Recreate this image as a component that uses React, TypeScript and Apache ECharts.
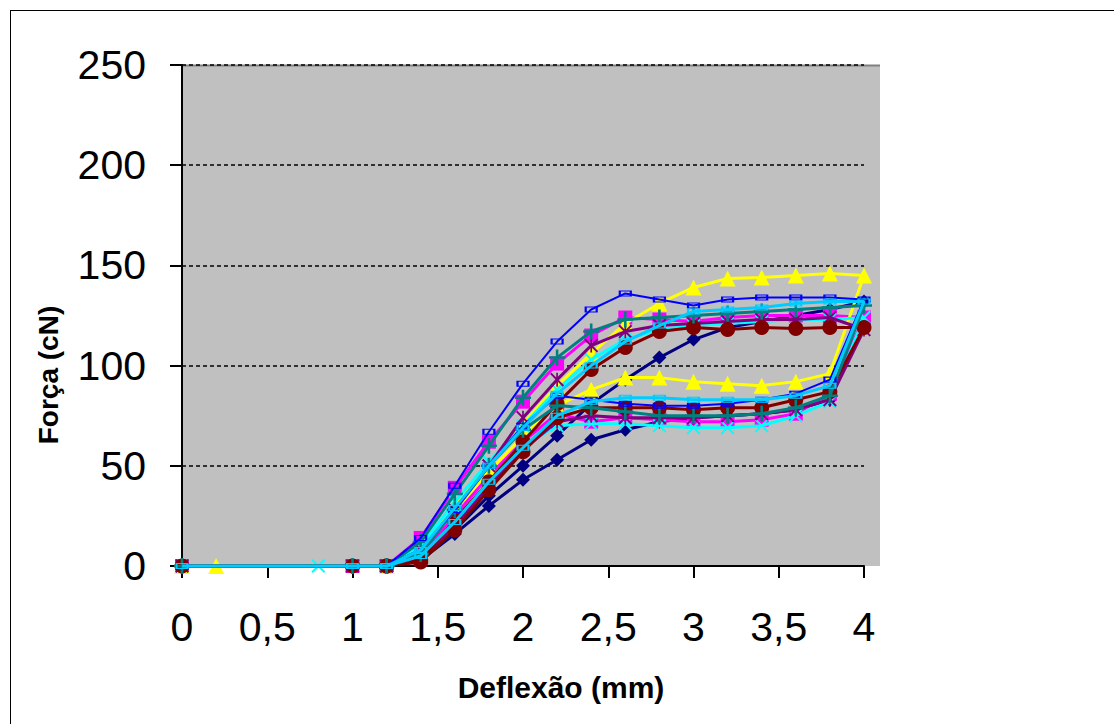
import React, { useEffect, useRef } from "react";
import * as echarts from "echarts";

// Deflection steps (mm)
const X_LOAD = [0, 1.2, 1.4, 1.6, 1.8, 2.0, 2.2, 2.4, 2.6, 2.8, 3.0, 3.2, 3.4, 3.6, 3.8, 4.0];
const X_UNLOAD = [3.8, 3.6, 3.4, 3.2, 3.0, 2.8, 2.6, 2.4, 2.2, 2.0, 1.8, 1.6, 1.4, 1.2];

const X_TICKS = [0, 0.5, 1, 1.5, 2, 2.5, 3, 3.5, 4];
const Y_TICKS = [0, 50, 100, 150, 200, 250];

// Force (cN) – loading branch, unloading branch, final zero point x
const navyLoad = [0, 0, 4, 18, 35, 50, 65, 81, 93, 104, 113, 119, 122, 125, 128, 132];
const navyUnload = [83, 78, 76, 75, 74, 72, 68, 63, 53, 43, 30, 16, 3, 0];
const magentaLoad = [0, 0, 14, 39, 62, 82, 101, 115, 124, 123, 122, 124, 125, 125, 125, 124];
const magentaUnload = [86, 76, 73, 72, 72, 73, 74, 72, 76, 62, 45, 25, 5, 0];
const yellowLoad = [0, 0, 10, 30, 50, 71, 90, 106, 121, 131, 139, 143.5, 144, 145, 146, 145];
const yellowUnload = [96, 92, 90, 91, 92, 94, 94, 88, 80, 65, 47, 28, 8, 0];
const cyanLoad = [0, 0, 10, 32, 52, 70, 88, 103, 113, 118, 120, 121, 122, 123, 123, 124];
const cyanUnload = [82, 75, 70, 69, 69, 70, 71, 71, 70, 60, 42, 22, 4, 0];
const purpleLoad = [0, 0, 8, 28, 50, 74, 93, 110, 117, 120, 121, 122, 123, 123, 124, 118];
const purpleUnload = [83, 78, 76, 75, 74, 74, 74, 75, 72, 58, 40, 20, 3, 0];
const maroonLoad = [0, 0, 3, 23, 42, 62, 81, 98, 109, 117, 119, 118, 119, 118.5, 119, 119];
const maroonUnload = [87, 83, 79, 79, 78, 79, 79, 79, 74, 57, 38, 18, 2, 0];
const tealLoad = [0, 0, 12, 36, 60, 84, 104, 117, 123, 124, 125, 126, 127, 128, 129, 130];
const tealUnload = [85, 79, 76, 75, 75, 75, 77, 79, 80, 68, 50, 28, 6, 0];
const blueLoad = [0, 0, 14, 40, 67, 91, 112, 128, 136, 133, 130, 133, 134, 134, 134, 133];
const blueUnload = [93, 86, 83, 81, 80, 80, 81, 83, 85, 70, 50, 28, 8, 0];
const skyLoad = [0, 0, 8, 29, 50, 69, 86, 100, 112, 120, 127, 128, 129, 131, 132, 132];
const skyUnload = [90, 85, 83, 83, 83, 84, 84, 82, 75, 59, 42, 22, 5, 0];

const END_X = [1.0, 1.0, 0.2, 0.8, 1.0, 1.0, 1.0, 1.0, 1.0];

const P_X = "path://M0,1 L1,0 L5,4 L9,0 L10,1 L6,5 L10,9 L9,10 L5,6 L1,10 L0,9 L4,5 Z";
const P_PLUS = "path://M4.2,0 H5.8 V4.2 H10 V5.8 H5.8 V10 H4.2 V5.8 H0 V4.2 H4.2 Z";
const P_STAR = "path://M0,1 L1,0 L5,4 L9,0 L10,1 L6,5 L10,9 L9,10 L5,6 L1,10 L0,9 L4,5 Z M4.4,0 H5.6 V10 H4.4 Z";

const SERIES_DEF = [
  { name: "1", color: "#000080", load: navyLoad, unload: navyUnload, symbol: "diamond", size: 14, width: 3, hollow: false },
  { name: "2", color: "#FF00FF", load: magentaLoad, unload: magentaUnload, symbol: "rect", size: 14, width: 3, hollow: false },
  { name: "3", color: "#FFFF00", load: yellowLoad, unload: yellowUnload, symbol: "triangle", size: 16, width: 3, hollow: false },
  { name: "4", color: "#00FFFF", load: cyanLoad, unload: cyanUnload, symbol: P_X, size: 14, width: 3, hollow: false },
  { name: "5", color: "#800080", load: purpleLoad, unload: purpleUnload, symbol: P_STAR, size: 14, width: 3, hollow: false },
  { name: "6", color: "#800000", load: maroonLoad, unload: maroonUnload, symbol: "circle", size: 15, width: 3, hollow: false },
  { name: "7", color: "#008080", load: tealLoad, unload: tealUnload, symbol: P_PLUS, size: 16, width: 3, hollow: false },
  { name: "8", color: "#0000FF", load: blueLoad, unload: blueUnload, symbol: "rect", size: [11, 5], width: 2, hollow: true },
  { name: "9", color: "#00CCFF", load: skyLoad, unload: skyUnload, symbol: "rect", size: [11, 5], width: 3, hollow: true },
];

export default function App() {
  const ref = useRef<HTMLDivElement>(null);

  useEffect(() => {
    if (!ref.current) return;
    const chart = echarts.init(ref.current, null, { renderer: "svg" });

    const series = SERIES_DEF.map((s, i) => {
      const data: number[][] = [];
      X_LOAD.forEach((x, k) => data.push([x, s.load[k]]));
      X_UNLOAD.forEach((x, k) => data.push([x, s.unload[k]]));
      data.push([END_X[i], 0]);
      return {
        type: "line",
        name: s.name,
        data,
        symbol: s.symbol,
        symbolSize: s.size,
        showAllSymbol: true,
        clip: false,
        lineStyle: { color: s.color, width: s.width },
        itemStyle: s.hollow
          ? { color: "rgba(0,0,0,0)", borderColor: s.color, borderWidth: 1.5 }
          : { color: s.color, borderWidth: 0 },
        z: 3 + i,
      };
    });

    const font = "'Liberation Sans', Arial, sans-serif";

    chart.setOption({
      animation: false,
      backgroundColor: "#ffffff",
      grid: { left: 182, top: 65, right: 250, bottom: 158, containLabel: false },
      xAxis: {
        type: "value",
        min: 0,
        max: 4,
        interval: 0.5,
        axisLine: { show: true, lineStyle: { color: "#000", width: 2 } },
        axisTick: { show: true, length: 12, lineStyle: { color: "#000", width: 2 } },
        splitLine: { show: false },
        axisLabel: {
          margin: 40,
          fontSize: 41,
          color: "#000",
          fontFamily: font,
          formatter: (v: number) => (X_TICKS.includes(v) ? String(v).replace(".", ",") : ""),
        },
      },
      yAxis: {
        type: "value",
        min: 0,
        max: 250,
        interval: 50,
        axisLine: { show: true, lineStyle: { color: "#000", width: 2 } },
        axisTick: { show: true, length: 12, lineStyle: { color: "#000", width: 2 } },
        splitLine: {
          show: true,
          lineStyle: { color: "#000", type: [4, 3], width: 1.5 },
        },
        axisLabel: {
          margin: 36,
          fontSize: 41,
          color: "#000",
          fontFamily: font,
          formatter: (v: number) => (Y_TICKS.includes(v) ? String(v) : ""),
        },
      },
      graphic: [
        { type: "rect", z: -10, shape: { x: 182, y: 65, width: 698, height: 501 }, style: { fill: "#C0C0C0" } },
        { type: "line", z: -5, shape: { x1: 182, y1: 65.5, x2: 880, y2: 65.5 }, style: { stroke: "#808080", lineWidth: 2 } },
        { type: "line", z: 100, shape: { x1: 10.5, y1: 10, x2: 10.5, y2: 724 }, style: { stroke: "#000", lineWidth: 1 } },
        { type: "line", z: 100, shape: { x1: 10, y1: 10.5, x2: 1114, y2: 10.5 }, style: { stroke: "#000", lineWidth: 1 } },
        {
          type: "text",
          x: 48,
          y: 375,
          rotation: Math.PI / 2,
          style: {
            text: "Força (cN)",
            fontSize: 28,
            fontWeight: "bold",
            fontFamily: font,
            fill: "#000",
            align: "center",
            verticalAlign: "middle",
          },
        },
        {
          type: "text",
          x: 561,
          y: 687,
          style: {
            text: "Deflexão (mm)",
            fontSize: 30,
            fontWeight: "bold",
            fontFamily: font,
            fill: "#000",
            align: "center",
            verticalAlign: "middle",
          },
        },
      ],
      series,
    });

    return () => chart.dispose();
  }, []);

  return (
    <div
      ref={ref}
      style={{ position: "fixed", left: 0, top: 0, width: 1114, height: 724 }}
    />
  );
}
